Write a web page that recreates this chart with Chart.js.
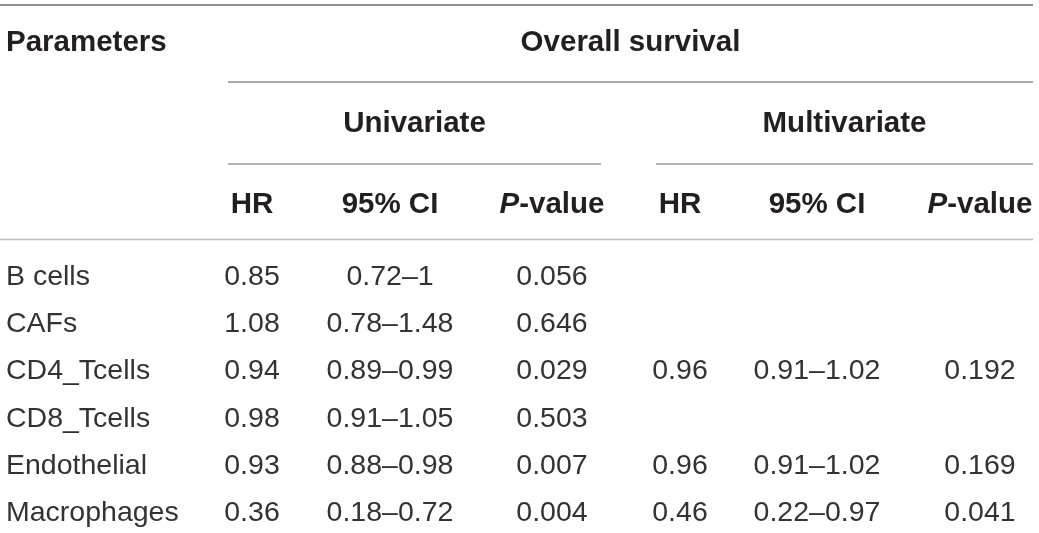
<!DOCTYPE html>
<html>
<head>
<meta charset="utf-8">
<script src="https://cdn.jsdelivr.net/npm/chart.js@4.4.0/dist/chart.umd.min.js"></script>
<style>
  html, body { margin: 0; padding: 0; background: #ffffff; }
  #wrap { width: 1039px; height: 533px; position: relative; }
</style>
</head>
<body>
<div id="wrap"><canvas id="c" width="1039" height="533"></canvas></div>
<script>
// ---- DATA ----
const parameters = ["B cells", "CAFs", "CD4_Tcells", "CD8_Tcells", "Endothelial", "Macrophages"];
const uniHR      = ["0.85", "1.08", "0.94", "0.98", "0.93", "0.36"];
const uniCI      = ["0.72\u20131", "0.78\u20131.48", "0.89\u20130.99", "0.91\u20131.05", "0.88\u20130.98", "0.18\u20130.72"];
const uniP       = ["0.056", "0.646", "0.029", "0.503", "0.007", "0.004"];
const multiHR    = ["", "", "0.96", "", "0.96", "0.46"];
const multiCI    = ["", "", "0.91\u20131.02", "", "0.91\u20131.02", "0.22\u20130.97"];
const multiP     = ["", "", "0.192", "", "0.169", "0.041"];
const subHeaders = ["HR", "95% CI", "P-value", "HR", "95% CI", "P-value"];
const groupTitle = "Overall survival";
const groupHeaders = ["Univariate", "Multivariate"];
const firstHeader = "Parameters";

// ---- LAYOUT (table units, mapped through the chart's scales) ----
const layout = {
  colX: [6, 252, 390, 552, 680, 817, 980],     // column anchors (first is left-aligned)
  headerY: [43, 124, 205],
  rowY0: 276, rowStep: 47.3,
  tableRight: 1033,
  spanLeft: 228,
  groupSpans: [[228, 601], [656, 1033]],
  ruleY: { top: 5, group: 82, sub: 164, head: 239.5 }
};

const columns = [parameters, uniHR, uniCI, uniP, multiHR, multiCI, multiP];
const datasets = columns.map((col, c) => ({
  label: "col" + c,
  data: col.map((t, r) => ({ x: layout.colX[c], y: layout.rowY0 + r * layout.rowStep, text: t })),
  pointRadius: 0,
  pointHoverRadius: 0,
  showLine: false
}));

const headFont = 'bold 29.5px "Liberation Sans", Arial, Helvetica, sans-serif';
const headItalic = 'italic bold 29.5px "Liberation Sans", Arial, Helvetica, sans-serif';
const bodyFont = '28.5px "Liberation Sans", Arial, Helvetica, sans-serif';

function drawPValue(ctx, cx, cy) {
  ctx.font = headItalic;
  const wP = ctx.measureText("P").width;
  ctx.font = headFont;
  const wRest = ctx.measureText("-value").width;
  const start = cx - (wP + wRest) / 2;
  ctx.textAlign = "left";
  ctx.font = headItalic;
  ctx.fillText("P", start, cy);
  ctx.font = headFont;
  ctx.fillText("-value", start + wP, cy);
}

const tablePlugin = {
  id: "tablePlugin",
  afterDatasetsDraw(chart) {
    const ctx = chart.ctx;
    const xs = chart.scales.x, ys = chart.scales.y;
    const X = v => xs.getPixelForValue(v);
    const Y = v => ys.getPixelForValue(v);
    ctx.save();

    // rules
    const rule = (x1, x2, y, color, w) => {
      ctx.beginPath();
      ctx.strokeStyle = color;
      ctx.lineWidth = w;
      ctx.moveTo(X(x1), Y(y));
      ctx.lineTo(X(x2), Y(y));
      ctx.stroke();
    };
    rule(0, layout.tableRight, layout.ruleY.top, "#6a6a6a", 1.5);
    rule(layout.spanLeft, layout.tableRight, layout.ruleY.group, "#8c8c8c", 1.3);
    layout.groupSpans.forEach(s => rule(s[0], s[1], layout.ruleY.sub, "#9a9a9a", 1.3));
    rule(0, layout.tableRight, layout.ruleY.head, "#bdbdbd", 1.3);

    // headers
    ctx.fillStyle = "#231f20";
    ctx.textBaseline = "middle";
    ctx.font = headFont;
    ctx.textAlign = "left";
    ctx.fillText(firstHeader, X(layout.colX[0]), Y(layout.headerY[0]));
    ctx.textAlign = "center";
    ctx.fillText(groupTitle, X((layout.spanLeft + layout.tableRight) / 2), Y(layout.headerY[0]));
    layout.groupSpans.forEach((s, i) => {
      ctx.fillText(groupHeaders[i], X((s[0] + s[1]) / 2), Y(layout.headerY[1]));
    });
    subHeaders.forEach((h, i) => {
      const cx = X(layout.colX[i + 1]), cy = Y(layout.headerY[2]);
      if (h === "P-value") {
        drawPValue(ctx, cx, cy);
      } else {
        ctx.textAlign = "center";
        ctx.font = headFont;
        ctx.fillText(h, cx, cy);
      }
    });

    // body cells, positioned by the dataset elements
    ctx.font = bodyFont;
    ctx.fillStyle = "#333333";
    chart.data.datasets.forEach((ds, c) => {
      const meta = chart.getDatasetMeta(c);
      ctx.textAlign = c === 0 ? "left" : "center";
      meta.data.forEach((el, r) => {
        const t = ds.data[r].text;
        if (t) ctx.fillText(t, el.x, el.y + 1);
      });
    });
    ctx.restore();
  }
};

new Chart(document.getElementById("c"), {
  type: "scatter",
  data: { datasets },
  options: {
    responsive: false,
    animation: false,
    devicePixelRatio: 1,
    layout: { padding: 0 },
    plugins: { legend: { display: false }, tooltip: { enabled: false } },
    events: [],
    scales: {
      x: { type: "linear", min: 0, max: 1039, display: false },
      y: { type: "linear", min: 0, max: 533, reverse: true, display: false }
    }
  },
  plugins: [tablePlugin]
});
</script>
</body>
</html>
